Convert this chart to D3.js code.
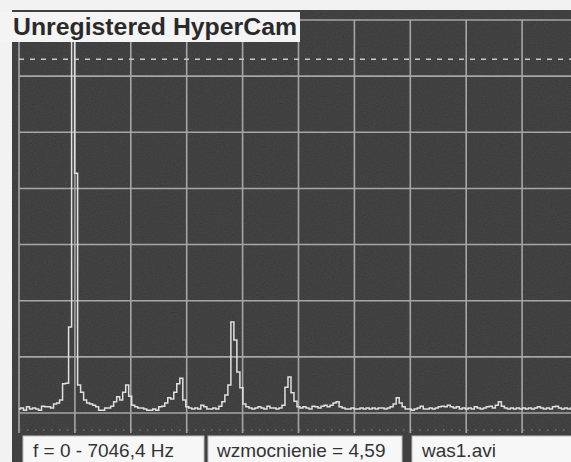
<!DOCTYPE html>
<html><head><meta charset="utf-8">
<script src="https://cdn.jsdelivr.net/npm/d3@7"></script>
<style>html,body{margin:0;padding:0;background:#f2f2f2;overflow:hidden}svg{display:block}</style>
</head><body>
<script>
// ---- data ----
const titleText = "Unregistered HyperCam";
const statusTexts = ["f = 0 - 7046,4 Hz", "wzmocnienie = 4,59", "was1.avi"];
const fMax = 7046.4;                 // Hz, full span
const xDivisions = 10;               // vertical grid divisions
const yDivisions = 7;                // horizontal grid divisions
const refLevel = 6.3;                // dashed reference line (divisions)
// spectrum amplitudes (in grid divisions), one per FFT bin, bins 0..186 over 0..7046.4 Hz
const amplitudes = [
 .07,.09,.05,.11,.07,.09,.07,.05,.12,.11, .11,.09,.16,.18,.23,.52,.53,1.53,6.9,4.27,
 .50,.37,.23,.18,.16,.14,.11,.05,.05,.09, .09,.12,.20,.29,.23,.37,.50,.30,.14,.11,
 .09,.09,.07,.05,.05,.07,.05,.11,.12,.18, .27,.25,.37,.52,.62,.23,.11,.09,.07,.09,
 .07,.14,.11,.07,.07,.09,.07,.12,.20,.32, .50,1.62,1.30,.73,.45,.16,.11,.09,.07,.09,
 .11,.09,.07,.12,.09,.09,.07,.09,.14,.46, .64,.36,.21,.11,.09,.11,.09,.07,.12,.11,
 .09,.12,.14,.11,.14,.18,.20,.11,.09,.07, .07,.09,.07,.07,.09,.07,.09,.07,.09,.07,
 .09,.09,.07,.09,.11,.16,.27,.18,.11,.07, .07,.05,.07,.09,.12,.07,.07,.09,.07,.09,
 .11,.12,.11,.14,.11,.09,.11,.07,.09,.07, .09,.07,.11,.09,.07,.09,.11,.12,.09,.14,
 .20,.12,.09,.07,.09,.07,.09,.07,.09,.07, .09,.07,.09,.11,.09,.07,.09,.07,.11,.12,
 .09,.07,.09,.07,.09,.07,.09
];
const binHz = fMax / (amplitudes.length - 1);

// ---- layout ----
const W = 571, H = 462;
const svg = d3.select("body").append("svg").attr("width", W).attr("height", H);

const defs = svg.append("defs");
const f = defs.append("filter").attr("id","noise").attr("x",0).attr("y",0).attr("width","100%").attr("height","100%");
f.append("feTurbulence").attr("type","fractalNoise").attr("baseFrequency",0.9).attr("numOctaves",2).attr("seed",4);
f.append("feColorMatrix").attr("type","matrix")
 .attr("values","0.4 0.4 0.4 0 0  0.4 0.4 0.4 0 0  0.4 0.4 0.4 0 0  0 0 0 0 0.16");
defs.append("clipPath").attr("id","plotclip").append("rect").attr("x",12).attr("y",10).attr("width",W-12).attr("height",426);

// background
svg.append("rect").attr("width",W).attr("height",H).attr("fill","#f2f2f2");
svg.append("rect").attr("x",12).attr("y",10).attr("width",W-12).attr("height",H-10).attr("fill","#262626");
svg.append("rect").attr("x",12).attr("y",10).attr("width",W-12).attr("height",H-10).attr("filter","url(#noise)");

const x = d3.scaleLinear().domain([0, fMax]).range([19, 578]);
const y = d3.scaleLinear().domain([0, yDivisions]).range([413, 20]);

const g = svg.append("g").attr("clip-path","url(#plotclip)");

// grid
const xTicks = d3.range(0, xDivisions + 1).map(i => i * fMax / xDivisions);
const yTicks = d3.range(0, yDivisions + 1);
g.selectAll("line.vx").data(xTicks).join("line")
 .attr("x1", d => x(d)).attr("x2", d => x(d)).attr("y1", 20).attr("y2", 433)
 .attr("stroke","#a6a6a6").attr("stroke-width",1.6);
g.selectAll("line.hy").data(yTicks).join("line")
 .attr("x1", 19).attr("x2", W).attr("y1", d => y(d)).attr("y2", d => y(d))
 .attr("stroke","#a6a6a6").attr("stroke-width",1.6);
// dashed reference
g.append("line").attr("x1",19).attr("x2",W).attr("y1",y(refLevel)).attr("y2",y(refLevel))
 .attr("stroke","#c8c8c8").attr("stroke-width",1.6).attr("stroke-dasharray","5,6");
// dotted bottom row
g.append("line").attr("x1",19).attr("x2",W).attr("y1",430).attr("y2",430)
 .attr("stroke","#8a8a8a").attr("stroke-width",1.2).attr("stroke-dasharray","1.5,6.5");

// spectrum trace
const line = d3.line().x((d,i) => x(i * binHz)).y(d => y(d)).curve(d3.curveStep);
g.append("path").datum(amplitudes).attr("d", line)
 .attr("fill","none").attr("stroke","#e0e0e0").attr("stroke-width",1.5).attr("stroke-linejoin","miter");

// title box
svg.append("rect").attr("x",0).attr("y",12).attr("width",300).attr("height",30).attr("fill","#f4f4f4");
svg.append("rect").attr("x",0).attr("y",0).attr("width",W).attr("height",10).attr("fill","#f2f2f2");
svg.append("text").attr("x",13).attr("y",35).text(titleText)
 .attr("font-family","Liberation Sans, Arial, sans-serif").attr("font-weight","bold")
 .attr("font-size",24).attr("fill","#2a2a2a")
 .attr("textLength",284).attr("lengthAdjust","spacingAndGlyphs");

// status bar
const boxes = [{x0:23,x1:204},{x0:208,x1:402},{x0:412,x1:W+5}];
const textX = [33, 217, 422];
svg.selectAll("rect.sb").data(boxes).join("rect")
 .attr("x", d => d.x0).attr("y", 436).attr("width", d => d.x1 - d.x0).attr("height", 30)
 .attr("fill","#f7f7f7").attr("stroke","#bdbdbd").attr("stroke-width",1);
svg.selectAll("text.st").data(statusTexts).join("text")
 .attr("x", (d,i) => textX[i]).attr("y", 457).text(d => d)
 .attr("font-family","Liberation Sans, Arial, sans-serif").attr("font-size",19).attr("fill","#333");
</script>
</body></html>
